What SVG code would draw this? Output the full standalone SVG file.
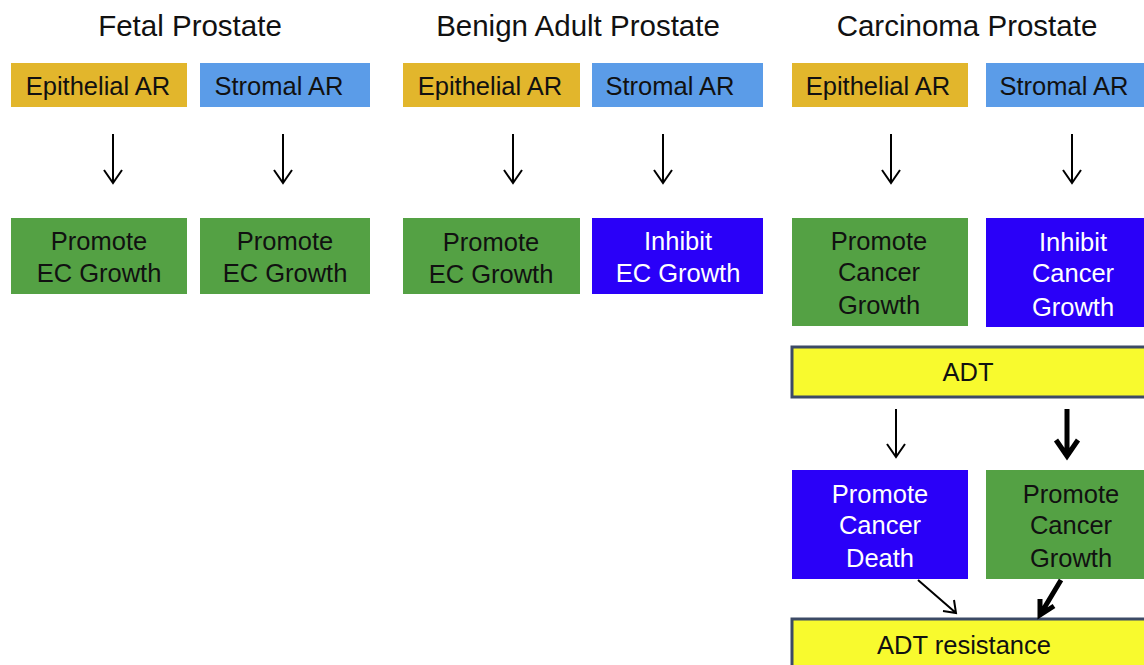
<svg xmlns="http://www.w3.org/2000/svg" width="1144" height="665" viewBox="0 0 1144 665">
<defs>
<style>
text{font-family:"Liberation Sans",Arial,sans-serif;text-anchor:middle}
.title{font-size:29.5px;fill:#111}
.t{font-size:25.5px;fill:#111}
.w{font-size:25.5px;fill:#fff}
.epi{fill:#E2B62C}
.str{fill:#5B9CE8}
.grn{fill:#54A144}
.blu{fill:#2A00F8}
.yel{fill:#F8FA2E;stroke:#3C4A66;stroke-width:3}
.thin{stroke:#000;stroke-width:2;fill:none}
.thick{stroke:#000;stroke-width:5;fill:none}
</style>
</defs>
<text class="title" x="190" y="36">Fetal Prostate</text>
<text class="title" x="578" y="36">Benign Adult Prostate</text>
<text class="title" x="967" y="36">Carcinoma Prostate</text>

<g id="fetal-epi"><rect class="epi" x="11" y="63" width="176" height="44"/><text class="t" x="98" y="95">Epithelial AR</text></g>
<g id="fetal-str"><rect class="str" x="200" y="63" width="170" height="44"/><text class="t" x="279" y="95">Stromal AR</text></g>
<g id="fetal-epi-out"><rect class="grn" x="11" y="218" width="176" height="76"/><text class="t" x="99" y="250">Promote</text><text class="t" x="99" y="282">EC Growth</text></g>
<g id="fetal-str-out"><rect class="grn" x="200" y="218" width="170" height="76"/><text class="t" x="285" y="250">Promote</text><text class="t" x="285" y="282">EC Growth</text></g>

<g id="benign-epi"><rect class="epi" x="403" y="63" width="177" height="44"/><text class="t" x="490" y="95">Epithelial AR</text></g>
<g id="benign-str"><rect class="str" x="592" y="63" width="171" height="44"/><text class="t" x="670" y="95">Stromal AR</text></g>
<g id="benign-epi-out"><rect class="grn" x="403" y="218" width="177" height="76"/><text class="t" x="491" y="251">Promote</text><text class="t" x="491" y="283">EC Growth</text></g>
<g id="benign-str-out"><rect class="blu" x="592" y="218" width="171" height="76"/><text class="w" x="678" y="250">Inhibit</text><text class="w" x="678" y="282">EC Growth</text></g>

<g id="carc-epi"><rect class="epi" x="792" y="63" width="176" height="44"/><text class="t" x="878" y="95">Epithelial AR</text></g>
<g id="carc-str"><rect class="str" x="986" y="63" width="160" height="44"/><text class="t" x="1064" y="95">Stromal AR</text></g>
<g id="carc-epi-out"><rect class="grn" x="792" y="218" width="176" height="108"/><text class="t" x="879" y="250">Promote</text><text class="t" x="879" y="281">Cancer</text><text class="t" x="879" y="314">Growth</text></g>
<g id="carc-str-out"><rect class="blu" x="986" y="218" width="160" height="109"/><text class="w" x="1073" y="251">Inhibit</text><text class="w" x="1073" y="282">Cancer</text><text class="w" x="1073" y="316">Growth</text></g>
<g id="adt"><rect class="yel" x="792" y="347" width="360" height="50"/><text class="t" x="968" y="381">ADT</text></g>
<g id="death"><rect class="blu" x="792" y="470" width="176" height="109"/><text class="w" x="880" y="503">Promote</text><text class="w" x="880" y="534">Cancer</text><text class="w" x="880" y="567">Death</text></g>
<g id="growth2"><rect class="grn" x="986" y="470" width="160" height="109"/><text class="t" x="1071" y="503">Promote</text><text class="t" x="1071" y="534">Cancer</text><text class="t" x="1071" y="567">Growth</text></g>
<g id="resist"><rect class="yel" x="792" y="619" width="360" height="50"/><text class="t" x="964" y="654">ADT resistance</text></g>

<g id="connectors">
<path class="thin" d="M113 134V183M104 170L113 183L122 170"/>
<path class="thin" d="M283 134V183M274 170L283 183L292 170"/>
<path class="thin" d="M513 134V183M504 170L513 183L522 170"/>
<path class="thin" d="M663 134V183M654 170L663 183L672 170"/>
<path class="thin" d="M891 134V183M882 170L891 183L900 170"/>
<path class="thin" d="M1072 134V183M1063 170L1072 183L1081 170"/>
<path class="thin" d="M896 409V457M887 444L896 457L905 444"/>
<path class="thick" d="M1067 409V455M1056 440L1067 456L1078 440"/>
<path class="thin" d="M918 580L956 613M943 611L956 613L954 600"/>
<path class="thick" d="M1061 580L1040 615M1040 599L1040 615L1054 606"/>
</g>
</svg>
